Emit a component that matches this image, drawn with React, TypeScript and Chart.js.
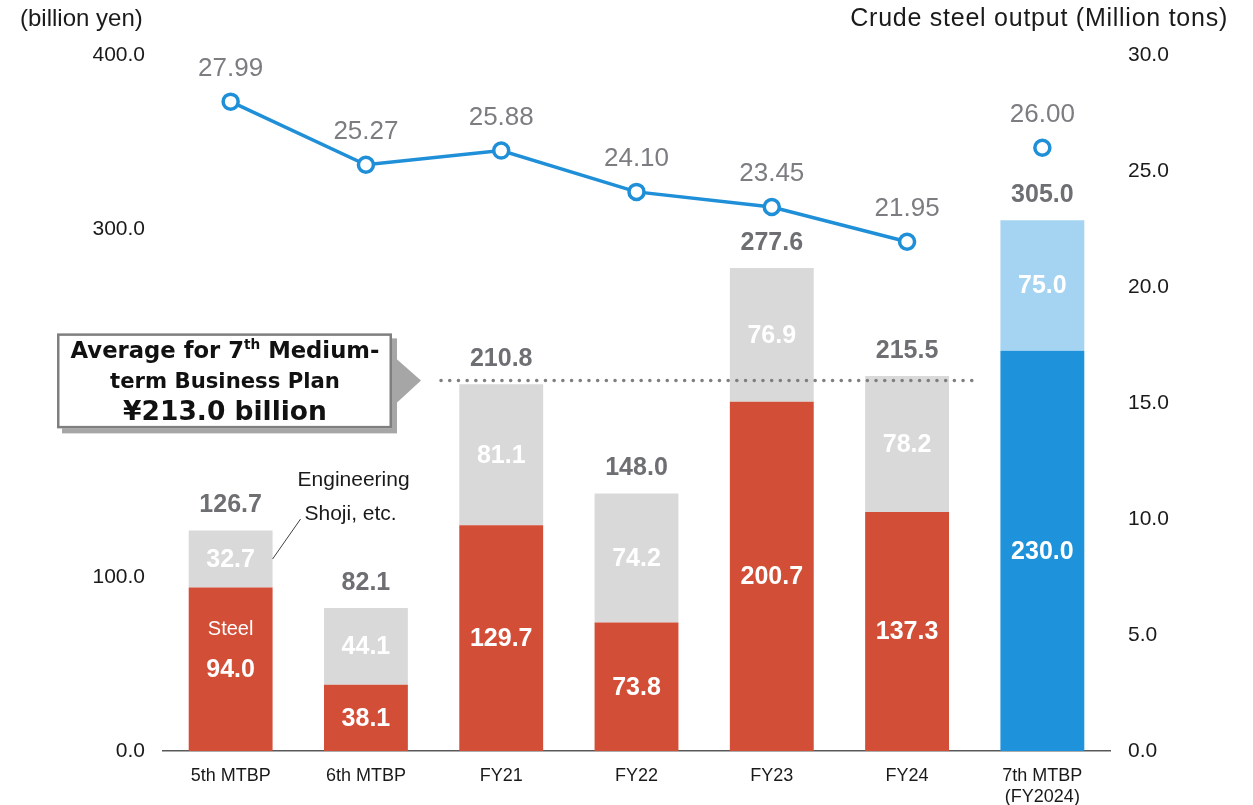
import React, { useEffect, useRef } from 'react';
import { Chart, registerables } from 'chart.js';

Chart.register(...registerables);

const categories: (string | string[])[] = ['5th MTBP', '6th MTBP', 'FY21', 'FY22', 'FY23', 'FY24', ['7th MTBP', '(FY2024)']];
const steel = [94.0, 38.1, 129.7, 73.8, 200.7, 137.3, null];
const engineering = [32.7, 44.1, 81.1, 74.2, 76.9, 78.2, null];
const planSteel = [null, null, null, null, null, null, 230.0];
const planEngineering = [null, null, null, null, null, null, 75.0];
const totals = [126.7, 82.1, 210.8, 148.0, 277.6, 215.5, 305.0];
const crudeSteel = [27.99, 25.27, 25.88, 24.1, 23.45, 21.95, 26.0];
const planAverage = 213.0;
const hiddenLeftTicks = [200];

const FONT = '"Liberation Sans", Arial, sans-serif';
const BLUE = '#1f8fd8';

const annotations = {
  id: 'annotations',
  afterDraw(chart: any) {
    const ctx = chart.ctx as CanvasRenderingContext2D;
    const ys = chart.scales.y;
    ctx.save();
    ctx.textAlign = 'center';
    ctx.textBaseline = 'middle';

    // inner segment values
    const inner = (dsIndex: number, values: (number | null)[]) => {
      const meta = chart.getDatasetMeta(dsIndex);
      meta.data.forEach((el: any, i: number) => {
        const v = values[i];
        if (v == null) return;
        const p = el.getProps(['x', 'y', 'base'], true);
        ctx.fillText(v.toFixed(1), p.x, (p.y + p.base) / 2 + 1);
      });
    };
    ctx.fillStyle = '#ffffff';
    ctx.font = `bold 25px ${FONT}`;
    inner(0, steel);
    inner(1, engineering);
    inner(2, planSteel);
    inner(3, planEngineering);

    // "Steel" label in first bar
    const s0 = chart.getDatasetMeta(0).data[0].getProps(['x', 'y', 'base'], true);
    ctx.font = `20px ${FONT}`;
    ctx.fillText('Steel', s0.x, s0.y + 42);

    // totals
    ctx.fillStyle = '#6d6f73';
    ctx.font = `bold 25px ${FONT}`;
    totals.forEach((t, i) => {
      const ds = engineering[i] != null ? 1 : 3;
      const el = chart.getDatasetMeta(ds).data[i].getProps(['x', 'y'], true);
      ctx.fillText(t.toFixed(1), el.x, el.y - 25);
    });

    // line labels
    ctx.fillStyle = '#7b7d81';
    ctx.font = `26px ${FONT}`;
    chart.getDatasetMeta(4).data.forEach((pt: any, i: number) => {
      ctx.fillText(crudeSteel[i].toFixed(2), pt.x, pt.y - 33);
    });

    // Engineering Shoji callout
    const e0 = chart.getDatasetMeta(1).data[0].getProps(['x', 'y', 'base', 'width'], true);
    const ex = e0.x + e0.width / 2;
    const ey = (e0.y + e0.base) / 2;
    ctx.strokeStyle = '#404040';
    ctx.lineWidth = 1;
    ctx.beginPath();
    ctx.moveTo(ex, ey);
    ctx.lineTo(ex + 28, ey - 40);
    ctx.stroke();
    ctx.fillStyle = '#1a1a1a';
    ctx.font = `21px ${FONT}`;
    ctx.fillText('Engineering', ex + 81, ey - 79);
    ctx.fillText('Shoji, etc.', ex + 78, ey - 45);

    // average dotted line
    const ay = ys.getPixelForValue(planAverage);
    ctx.strokeStyle = '#7f7f7f';
    ctx.lineWidth = 3.5;
    ctx.lineCap = 'round';
    ctx.setLineDash([0.1, 8.6]);
    ctx.beginPath();
    ctx.moveTo(441, ay);
    ctx.lineTo(980, ay);
    ctx.stroke();
    ctx.setLineDash([]);

    // callout box
    const bx = 57, by = ay - 47, bw = 335, bh = 95;
    ctx.fillStyle = '#a6a6a6';
    ctx.fillRect(bx + 5, by + 5, bw, bh);
    ctx.beginPath();
    ctx.moveTo(bx + bw + 4, ay - 22);
    ctx.lineTo(bx + bw + 29, ay);
    ctx.lineTo(bx + bw + 4, ay + 23);
    ctx.closePath();
    ctx.fill();
    ctx.fillStyle = '#ffffff';
    ctx.fillRect(bx, by, bw, bh);
    ctx.strokeStyle = '#7f7f7f';
    ctx.lineWidth = 2.5;
    ctx.strokeRect(bx + 1.25, by + 1.25, bw - 2.5, bh - 2.5);

    const BF = '"DejaVu Sans", Verdana, sans-serif';
    const cx = bx + 168;
    ctx.fillStyle = '#111111';
    ctx.textBaseline = 'alphabetic';
    const l1a = 'Average for 7', l1b = 'th', l1c = ' Medium-';
    const fitSize = (target: number, measure: (s: number) => number) => {
      const w = measure(100);
      return (100 * target) / w;
    };
    const m1 = (s: number) => {
      ctx.font = `bold ${s}px ${BF}`;
      const a = ctx.measureText(l1a).width + ctx.measureText(l1c).width;
      ctx.font = `bold ${s * 0.6}px ${BF}`;
      return a + ctx.measureText(l1b).width;
    };
    const s1 = fitSize(309, m1);
    ctx.font = `bold ${s1}px ${BF}`;
    const wa = ctx.measureText(l1a).width;
    const wc = ctx.measureText(l1c).width;
    ctx.font = `bold ${s1 * 0.6}px ${BF}`;
    const wb = ctx.measureText(l1b).width;
    const lx = cx - (wa + wb + wc) / 2;
    ctx.textAlign = 'left';
    ctx.font = `bold ${s1}px ${BF}`;
    ctx.fillText(l1a, lx, by + 25);
    ctx.font = `bold ${s1 * 0.6}px ${BF}`;
    ctx.fillText(l1b, lx + wa, by + 16);
    ctx.font = `bold ${s1}px ${BF}`;
    ctx.fillText(l1c, lx + wa + wb, by + 25);
    ctx.textAlign = 'center';
    const l2 = 'term Business Plan';
    const s2 = fitSize(230, (s) => { ctx.font = `bold ${s}px ${BF}`; return ctx.measureText(l2).width; });
    ctx.font = `bold ${s2}px ${BF}`;
    ctx.fillText(l2, cx, by + 55);
    const l3 = '¥213.0 billion';
    const s3 = fitSize(204, (s) => { ctx.font = `bold ${s}px ${BF}`; return ctx.measureText(l3).width; });
    ctx.font = `bold ${s3}px ${BF}`;
    ctx.fillText(l3, cx, by + 87);

    // axis titles
    ctx.fillStyle = '#1a1a1a';
    ctx.textBaseline = 'middle';
    ctx.font = `24px ${FONT}`;
    ctx.textAlign = 'left';
    ctx.fillText('(billion yen)', 20, 19);
    ctx.textAlign = 'right';
    ctx.font = `25px ${FONT}`;
    (ctx as any).letterSpacing = '0.75px';
    ctx.fillText('Crude steel output (Million tons)', 1228, 19);
    (ctx as any).letterSpacing = '0px';
    ctx.restore();
  },
};

export default function App() {
  const ref = useRef<HTMLCanvasElement>(null);
  useEffect(() => {
    if (!ref.current) return;
    const chart = new Chart(ref.current, {
      type: 'bar',
      data: {
        labels: categories as any,
        datasets: [
          { type: 'bar', label: 'Steel', data: steel as any, backgroundColor: '#d24e37', yAxisID: 'y', order: 2 },
          { type: 'bar', label: 'Engineering Shoji, etc.', data: engineering as any, backgroundColor: '#d9d9d9', yAxisID: 'y', order: 2 },
          { type: 'bar', label: 'Plan Steel', data: planSteel as any, backgroundColor: '#1e92da', yAxisID: 'y', order: 2 },
          { type: 'bar', label: 'Plan Engineering', data: planEngineering as any, backgroundColor: '#a4d4f2', yAxisID: 'y', order: 2 },
          {
            type: 'line',
            label: 'Crude steel output',
            data: crudeSteel,
            yAxisID: 'y2',
            order: 0,
            borderColor: BLUE,
            borderWidth: 3.5,
            pointRadius: 7.5,
            pointBorderWidth: 3.5,
            pointBackgroundColor: '#ffffff',
            pointBorderColor: BLUE,
            tension: 0,
            segment: {
              borderColor: (c: any) => (c.p1DataIndex === 6 ? 'rgba(0,0,0,0)' : BLUE),
            },
          } as any,
        ],
      },
      options: {
        responsive: true,
        maintainAspectRatio: false,
        animation: false,
        layout: { padding: { top: 55, left: 0, right: 0, bottom: 0 } },
        plugins: { legend: { display: false }, tooltip: { enabled: false } },
        datasets: { bar: { barPercentage: 0.62, categoryPercentage: 1 } },
        scales: {
          x: {
            stacked: true,
            grid: { display: false },
            border: { display: true, color: '#595959', width: 1.5 },
            ticks: { color: '#1a1a1a', font: { family: FONT, size: 18 }, padding: 6, maxRotation: 0, autoSkip: false },
            afterFit: (s: any) => { s.height = 54; },
          },
          y: {
            position: 'left',
            stacked: true,
            min: 0,
            max: 400,
            grid: { display: false },
            border: { display: false },
            ticks: {
              stepSize: 100,
              padding: 10,
              color: '#1a1a1a',
              font: { family: FONT, size: 21 },
              callback: (v: any) => (hiddenLeftTicks.includes(Number(v)) ? '' : Number(v).toFixed(1)),
            },
            afterFit: (s: any) => { s.width = 163; },
          },
          y2: {
            position: 'right',
            min: 0,
            max: 30,
            grid: { display: false },
            border: { display: false },
            ticks: {
              stepSize: 5,
              padding: 10,
              color: '#1a1a1a',
              font: { family: FONT, size: 21 },
              callback: (v: any) => Number(v).toFixed(1),
            },
            afterFit: (s: any) => { s.width = 143; },
          },
        },
      },
      plugins: [annotations],
    });
    return () => chart.destroy();
  }, []);
  return (
    <div style={{ position: 'absolute', left: 0, top: 0, width: 1253, height: 805, background: '#ffffff' }}>
      <canvas ref={ref} />
    </div>
  );
}
